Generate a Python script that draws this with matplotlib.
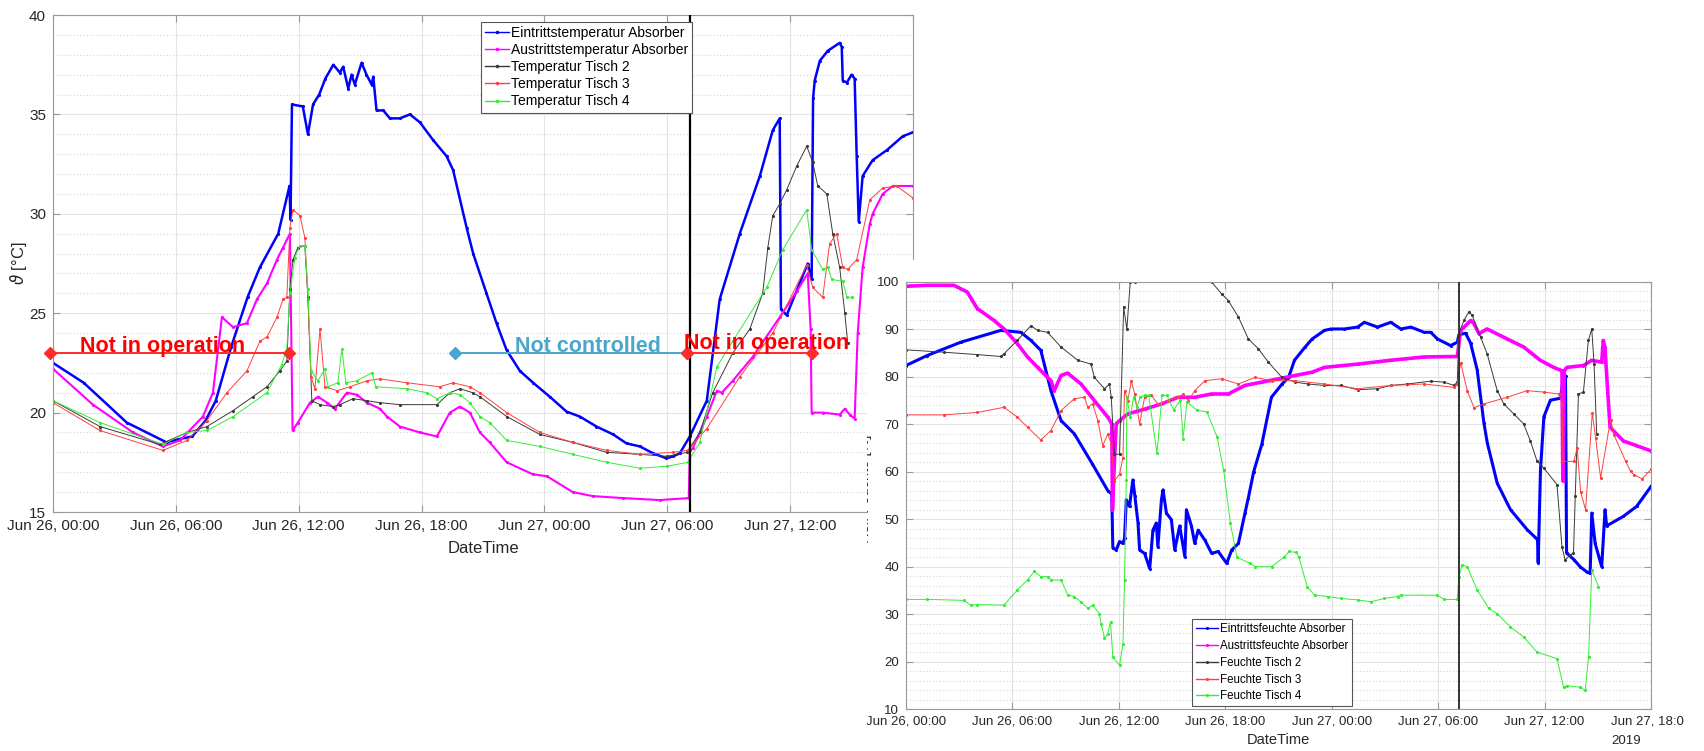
"""
Temperature and humidity at the absorber and the tables, Jun 26-27 2019.
Two MATLAB-style charts, the humidity one laid over the lower right corner
of the temperature one.
"""

import matplotlib
matplotlib.use("Agg")
import matplotlib.pyplot as plt
from matplotlib.ticker import MultipleLocator

plt.rcParams["font.family"] = ["Liberation Sans", "DejaVu Sans"]
plt.rcParams["mathtext.fontset"] = "dejavusans"

# ----------------------------------------------------------------------------
# Data (hours since Jun 26 00:00)
# ----------------------------------------------------------------------------
TICK_HOURS = [0, 6, 12, 18, 24, 30, 36, 42]
TICK_LABELS = ["Jun 26, 00:00", "Jun 26, 06:00", "Jun 26, 12:00",
               "Jun 26, 18:00", "Jun 27, 00:00", "Jun 27, 06:00",
               "Jun 27, 12:00", "Jun 27, 18:00"]
YEAR_LABEL = "2019"
SWITCH_TEMP = 31.1     # black vertical marker, top chart
SWITCH_HUM = 31.17     # black vertical marker, bottom chart

# --- temperatures [°C]
t_ein = [0, 1.5, 3.6, 5.55, 5.85, 6.8, 7.45, 7.95, 8.7, 9.5, 10.1, 11.0,
         11.55, 11.6, 11.67, 12.2, 12.45, 12.7, 13.0, 13.3, 13.69, 14.01,
         14.17, 14.42, 14.58, 14.74, 15.07, 15.31, 15.56, 15.64, 15.80,
         16.13, 16.45, 16.94, 17.43, 17.92, 18.57, 19.22, 19.54, 20.20,
         20.52, 21.17, 21.66, 22.15, 22.80, 23.45, 24.26, 25.08, 25.73,
         26.54, 27.36, 28.01, 28.66, 29.31, 29.96, 30.28, 30.61, 31.10,
         31.93, 32.56, 33.54, 34.52, 35.15, 35.49, 35.55, 35.83, 36.86,
         37.05, 37.12, 37.20, 37.45, 37.84, 38.42, 38.52, 38.57, 38.77,
         39.00, 39.15, 39.25, 39.35, 39.54, 40.03, 40.72, 41.50, 42.0]
v_ein = [22.5, 21.5, 19.5, 18.5, 18.6, 18.8, 19.6, 20.6, 23.3, 25.8, 27.3,
         29.0, 31.4, 29.7, 35.5, 35.4, 34.0, 35.5, 36.0, 36.8, 37.5, 37.1,
         37.4, 36.3, 37.0, 36.5, 37.6, 37.0, 36.5, 36.9, 35.2, 35.2, 34.8,
         34.8, 35.0, 34.6, 33.7, 32.9, 32.2, 29.3, 28.0, 26.0, 24.5, 23.15,
         22.1, 21.5, 20.8, 20.05, 19.8, 19.3, 18.9, 18.45, 18.3, 17.95, 17.7,
         17.8, 17.95, 18.8, 20.6, 25.7, 29.0, 31.9, 34.2, 34.8, 25.2, 24.9,
         27.5, 26.7, 35.8, 36.7, 37.7, 38.2, 38.6, 38.4, 36.7, 36.6, 37.0,
         36.8, 32.9, 29.6, 31.9, 32.7, 33.2, 33.9, 34.1]

t_aus = [0, 1.95, 3.91, 5.37, 6.2, 7.32, 7.81, 8.25, 8.79, 9.47, 9.96,
         10.45, 10.94, 11.23, 11.57, 11.7, 11.96, 12.55, 12.94, 13.38, 13.77,
         14.35, 14.84, 15.33, 15.96, 16.31, 16.94, 17.92, 18.75, 19.38,
         19.87, 20.36, 20.85, 21.33, 22.16, 23.43, 24.12, 25.39, 26.36,
         27.83, 29.63, 31.05, 31.1, 31.24, 31.93, 32.42, 32.66, 33.2, 34.17,
         35.49, 36.32, 36.86, 37.0, 37.05, 37.59, 38.42, 38.67, 38.91,
         39.15, 39.3, 39.54, 39.89, 40.03, 40.52, 41.01, 41.99]
v_aus = [22.2, 20.4, 19.0, 18.3, 18.6, 19.8, 21.0, 24.8, 24.3, 24.5, 25.7,
         26.5, 27.7, 28.3, 29.0, 19.1, 19.5, 20.5, 20.8, 20.5, 20.2, 21.0,
         20.9, 20.5, 20.2, 19.8, 19.3, 19.0, 18.8, 20.0, 20.3, 20.0, 19.0,
         18.5, 17.5, 16.9, 16.8, 16.0, 15.8, 15.7, 15.6, 15.7, 18.1, 18.2,
         19.8, 21.1, 21.0, 21.6, 22.8, 24.8, 26.1, 27.0, 24.2, 20.0, 20.0,
         19.9, 20.2, 19.9, 19.7, 24.0, 27.3, 29.5, 30.0, 31.0, 31.4, 31.4]

t_t2 = [0, 2.29, 5.22, 6.54, 7.52, 8.79, 9.76, 10.45, 11.08, 11.42, 11.57,
        11.72, 11.96, 12.3, 12.45, 12.64, 13.04, 13.67, 14.01, 14.65, 15.33,
        15.96, 16.94, 18.75, 19.38, 19.87, 20.5, 20.85, 22.16, 23.78, 25.39,
        27.05, 28.66, 29.98, 30.95, 31.59, 32.22, 33.2, 34.03, 34.66, 34.91,
        35.15, 35.49, 35.83, 36.32, 36.81, 37.1, 37.35, 37.79, 38.08, 38.42,
        38.67, 38.81]
v_t2 = [20.6, 19.3, 18.4, 19.0, 19.3, 20.1, 20.8, 21.3, 22.1, 22.6, 26.2,
        27.7, 28.3, 28.4, 25.8, 20.6, 20.4, 20.3, 20.4, 20.7, 20.6, 20.5,
        20.4, 20.4, 21.0, 21.2, 21.0, 20.8, 19.8, 18.9, 18.5, 18.0, 17.9,
        17.8, 18.0, 19.0, 21.0, 23.0, 24.2, 26.0, 28.3, 29.9, 30.5, 31.2,
        32.4, 33.4, 32.6, 31.4, 31.0, 29.0, 27.3, 25.0, 23.5]

t_t3 = [0, 2.29, 5.37, 6.54, 7.52, 8.49, 9.47, 10.11, 10.45, 10.94, 11.23,
        11.42, 11.57, 11.72, 12.06, 12.3, 12.45, 12.6, 12.79, 13.04, 13.28,
        13.87, 14.5, 15.33, 15.96, 17.28, 18.89, 19.53, 20.36, 20.85, 22.16,
        23.78, 25.39, 27.05, 28.66, 30.27, 31.0, 31.93, 33.54, 35.15, 36.81,
        37.1, 37.59, 37.93, 38.27, 38.57, 38.81, 39.25, 39.89, 40.52, 41.2,
        41.99]
v_t3 = [20.5, 19.1, 18.1, 18.6, 19.6, 21.0, 22.1, 23.6, 23.8, 24.8, 25.7,
        25.8, 29.3, 30.2, 29.9, 28.8, 25.7, 21.8, 21.2, 24.2, 21.3, 21.1,
        21.3, 21.6, 21.7, 21.5, 21.3, 21.5, 21.3, 21.0, 20.0, 19.0, 18.5,
        18.1, 17.9, 18.0, 18.1, 19.2, 21.8, 24.0, 27.4, 26.3, 25.8, 28.5,
        29.0, 27.3, 27.2, 27.7, 30.7, 31.3, 31.4, 30.8]

t_t4 = [0, 2.29, 5.37, 6.54, 7.52, 8.79, 10.45, 11.16, 11.42, 11.57, 11.81,
        12.06, 12.3, 12.45, 12.6, 12.94, 13.28, 13.43, 13.91, 14.11, 14.3,
        14.84, 15.57, 15.77, 17.28, 18.26, 18.75, 19.38, 19.87, 20.36, 20.85,
        21.33, 22.16, 23.78, 25.39, 27.05, 28.66, 29.98, 31.0, 31.59, 32.42,
        33.2, 34.86, 35.64, 36.81, 37.05, 37.59, 37.84, 38.03, 38.57, 38.77,
        39.0]
v_t4 = [20.6, 19.5, 18.4, 19.0, 19.1, 19.8, 21.0, 22.4, 23.2, 26.0, 27.8,
        28.4, 28.4, 26.2, 22.1, 21.6, 22.2, 21.3, 21.5, 23.2, 21.5, 21.6,
        22.0, 21.3, 21.2, 21.0, 20.7, 21.0, 20.9, 20.5, 19.8, 19.5, 18.6,
        18.3, 17.9, 17.5, 17.2, 17.3, 17.5, 18.5, 22.3, 23.6, 26.3, 28.2,
        30.2, 28.2, 27.2, 27.3, 26.7, 26.6, 25.8, 25.8]

TEMP_SERIES = [
    ("Eintrittstemperatur Absorber", t_ein, v_ein),
    ("Austrittstemperatur Absorber", t_aus, v_aus),
    ("Temperatur Tisch 2", t_t2, v_t2),
    ("Temperatur Tisch 3", t_t3, v_t3),
    ("Temperatur Tisch 4", t_t4, v_t4),
]

# operating phases drawn on the temperature chart: (start, end, label)
PHASES = [(-0.15, 11.55, "Not in operation"),
          (19.63, 30.95, "Not controlled"),
          (30.95, 37.06, "Not in operation")]
PHASE_LEVEL = 23.0

# --- relative humidity [%]
h_ein = [0, 1.19, 3.08, 5.34, 6.47, 7.04, 7.6, 8.17, 8.74, 9.49, 10.5,
         11.38, 11.6, 11.66, 11.85, 12.04, 12.23, 12.32, 12.42, 12.6, 12.79,
         12.9, 13.08, 13.17, 13.45, 13.74, 13.92, 14.11, 14.2, 14.4, 14.49,
         14.68, 14.96, 15.15, 15.43, 15.72, 15.81, 16.09, 16.28, 16.47,
         16.85, 17.23, 17.6, 18.08, 18.36, 18.74, 19.11, 19.3, 19.6, 20.06,
         20.6, 21.2, 21.57, 21.9, 22.5, 22.9, 23.59, 23.96, 24.71, 25.46,
         25.84, 26.58, 27.33, 27.9, 28.46, 29.21, 29.58, 29.96, 30.70, 31.08,
         31.17, 31.55, 31.83, 32.2, 32.58, 32.77, 33.33, 34.08, 35.02, 35.49,
         35.6, 35.64, 35.77, 35.96, 36.33, 36.9, 37.09, 37.18, 37.24, 37.65,
         38.0, 38.38, 38.57, 38.66, 38.85, 39.22, 39.41, 39.5, 40.44, 41.19,
         42.0]
f_ein = [82.4, 84.5, 87.3, 89.8, 89.4, 87.7, 85.6, 77.1, 70.8, 68.0, 61.7,
         56.0, 55.3, 44.0, 43.5, 45.3, 44.9, 46.0, 54.1, 52.7, 58.3, 55.0,
         49.2, 43.5, 42.8, 39.6, 47.7, 49.2, 44.2, 54.1, 56.2, 51.3, 49.9,
         43.5, 48.6, 42.1, 52.0, 48.6, 44.9, 47.7, 45.6, 42.8, 43.2, 40.7,
         43.5, 44.9, 51.3, 54.5, 60.0, 65.8, 75.7, 78.5, 79.9, 83.5, 86.3,
         88.0, 89.8, 90.1, 90.1, 90.5, 91.5, 90.5, 91.5, 90.1, 90.5, 89.4,
         89.4, 88.0, 86.6, 87.3, 88.9, 89.2, 87.1, 81.5, 70.3, 66.1, 57.6,
         52.0, 47.8, 46.1, 45.8, 40.8, 60.4, 71.6, 75.1, 75.5, 80.8, 80.1,
         42.9, 41.5, 40.0, 38.9, 38.6, 51.3, 44.9, 40.0, 52.0, 48.6, 50.6,
         52.7, 56.9]

h_aus = [0, 1.19, 2.7, 3.45, 4.02, 4.96, 5.53, 6.28, 6.85, 7.42, 8.17, 8.36,
         8.74, 9.11, 9.87, 10.62, 11.38, 11.6, 11.64, 11.7, 11.85, 12.04,
         12.51, 13.45, 14.4, 15.34, 16.28, 17.23, 18.17, 19.11, 20.06, 21.0,
         21.94, 22.9, 23.59, 25.46, 27.33, 29.21, 31.08, 31.27, 31.84, 32.02,
         32.3, 32.76, 33.89, 34.82, 35.76, 36.51, 36.98, 37.03, 37.11, 37.26,
         38.19, 38.66, 39.22, 39.31, 39.40, 39.69, 40.44, 41.19, 42.0]
f_aus = [99.1, 99.3, 99.3, 97.9, 94.4, 91.9, 90.1, 87.0, 84.2, 82.0, 79.2,
         77.1, 80.3, 80.8, 78.5, 75.0, 71.5, 70.1, 52.0, 58.0, 70.1, 70.8,
         72.2, 73.2, 74.3, 75.7, 75.7, 76.4, 76.4, 78.2, 78.9, 79.6, 80.3,
         81.0, 82.0, 82.7, 83.5, 84.2, 84.3, 89.8, 91.9, 91.2, 89.1, 90.1,
         88.0, 86.3, 83.5, 82.0, 81.3, 58.1, 81.3, 82.0, 82.4, 83.5, 83.1,
         87.7, 86.3, 69.4, 66.5, 65.5, 64.4]

h_t2 = [0, 2.13, 4.02, 5.34, 5.53, 6.28, 7.04, 7.42, 7.98, 8.74, 9.68,
        10.43, 10.62, 11.19, 11.47, 11.57, 11.75, 12.04, 12.27, 12.45, 12.64,
        12.89, 17.23, 17.79, 18.17, 18.74, 19.3, 19.87, 20.43, 21.19, 21.94,
        22.65, 23.59, 24.52, 25.46, 26.58, 27.33, 28.27, 29.58, 30.33, 30.89,
        31.08, 31.17, 31.45, 31.73, 31.92, 32.39, 32.76, 33.33, 33.7, 34.26,
        34.82, 35.2, 35.57, 35.95, 36.7, 36.98, 37.16, 37.45, 37.63, 37.73,
        37.91, 38.19, 38.47, 38.66, 38.79, 38.94]
f_t2 = [85.7, 85.2, 84.7, 84.3, 84.9, 87.7, 90.8, 89.8, 89.4, 86.3, 83.5,
        82.7, 79.9, 77.5, 78.5, 75.7, 63.7, 63.7, 94.8, 90.0, 99.9, 100.0,
        100.0, 97.5, 96.1, 92.6, 88.0, 85.9, 83.1, 79.9, 78.9, 78.5, 78.2,
        78.2, 77.3, 77.5, 78.2, 78.5, 79.1, 78.9, 78.2, 78.9, 89.1, 91.9,
        93.7, 93.0, 88.4, 84.9, 77.1, 74.3, 72.2, 70.1, 66.5, 62.3, 60.8,
        57.3, 44.2, 41.4, 42.5, 42.8, 54.8, 76.4, 76.8, 87.7, 90.1, 82.7,
        67.9]

h_t3 = [0, 2.13, 4.02, 5.53, 6.28, 6.85, 7.6, 8.17, 8.74, 9.49, 10.06,
        10.25, 10.53, 10.81, 11.09, 11.38, 11.57, 11.75, 12.04, 12.23, 12.32,
        12.51, 12.7, 12.89, 13.17, 13.45, 13.83, 14.2, 14.77, 15.34, 15.62,
        15.91, 16.28, 16.85, 17.79, 18.74, 19.68, 20.62, 21.94, 23.59, 25.46,
        27.33, 29.21, 30.89, 31.08, 31.27, 31.64, 32.02, 32.58, 33.89, 35.01,
        35.95, 36.81, 36.98, 37.05, 37.65, 37.84, 38.03, 38.31, 38.69, 38.88,
        39.16, 39.72, 39.91, 40.57, 40.85, 41.03, 41.5, 42.0]
f_t3 = [72.0, 72.0, 72.5, 73.6, 71.5, 69.4, 66.7, 68.7, 72.9, 75.4, 75.7,
        73.6, 74.3, 70.8, 65.5, 68.0, 65.8, 58.1, 59.5, 63.0, 77.1, 75.0,
        79.2, 76.4, 70.1, 75.7, 76.1, 74.3, 75.0, 75.7, 76.4, 75.0, 77.1,
        79.2, 79.6, 78.5, 79.9, 79.2, 79.2, 78.5, 77.5, 78.2, 78.5, 77.8,
        78.5, 83.0, 77.1, 73.5, 74.3, 75.7, 77.1, 76.8, 76.4, 74.3, 62.2,
        62.2, 65.0, 55.8, 52.0, 72.4, 67.1, 58.7, 71.0, 67.8, 62.2, 60.1,
        59.4, 58.5, 60.5]

h_t4 = [0, 1.19, 3.26, 3.64, 4.02, 5.53, 6.28, 6.85, 7.23, 7.6, 7.98, 8.17,
        8.74, 9.11, 9.49, 9.87, 10.25, 10.53, 10.9, 11.0, 11.19, 11.38,
        11.53, 11.66, 12.04, 12.23, 12.32, 12.42, 12.45, 12.64, 12.83, 13.02,
        13.21, 13.49, 13.68, 14.15, 14.43, 14.71, 15.09, 15.47, 15.62, 15.84,
        16.4, 16.97, 17.54, 17.91, 18.29, 18.66, 19.4, 19.68, 20.62, 21.3,
        21.6, 22.0, 22.15, 22.62, 23.03, 23.78, 24.52, 25.46, 26.21, 26.96,
        27.71, 27.9, 29.96, 30.33, 31.08, 31.17, 31.36, 31.64, 32.2, 32.86,
        33.33, 34.07, 34.82, 35.57, 36.7, 37.07, 37.26, 38.01, 38.29, 38.48,
        38.66, 39.04]
f_t4 = [33.1, 33.1, 32.9, 31.9, 32.0, 31.9, 35.1, 37.2, 39.0, 37.9, 37.9,
        37.2, 37.2, 34.1, 33.7, 32.6, 31.2, 31.9, 30.1, 28.0, 24.9, 25.9,
        28.4, 21.0, 19.2, 23.8, 37.2, 58.3, 75.8, 71.5, 75.8, 73.7, 75.8,
        76.1, 76.1, 63.9, 76.1, 76.1, 73.0, 75.1, 67.0, 74.7, 73.0, 72.6,
        67.3, 60.3, 49.1, 42.0, 40.7, 40.0, 40.0, 42.0, 43.2, 43.0, 42.0,
        35.8, 34.0, 33.7, 33.3, 33.0, 32.6, 33.3, 33.7, 34.0, 34.0, 33.1,
        33.1, 37.9, 40.4, 40.0, 35.1, 31.2, 30.1, 27.3, 25.2, 22.0, 20.6,
        14.6, 14.9, 14.6, 13.9, 21.0, 39.3, 35.8]

HUM_SERIES = [
    ("Eintrittsfeuchte Absorber", h_ein, f_ein),
    ("Austrittsfeuchte Absorber", h_aus, f_aus),
    ("Feuchte Tisch 2", h_t2, f_t2),
    ("Feuchte Tisch 3", h_t3, f_t3),
    ("Feuchte Tisch 4", h_t4, f_t4),
]

# ----------------------------------------------------------------------------
# Style
# ----------------------------------------------------------------------------
FIG_W, FIG_H, DPI = 1704, 751, 100
COLORS = ["#0000ff", "#ff00ff", "#3a3a3a", "#ff4040", "#33ee33"]
TEMP_LW = [1.8, 1.5, 0.7, 0.7, 0.7]
HUM_LW = [2.2, 2.6, 0.7, 0.7, 0.7]
RED = "#ff2a2a"
LIGHT_BLUE = "#4aa6cc"
SPINE = "#9a9a9a"
TEXT = "#262626"


def px_rect(x0, y0, x1, y1):
    """Pixel box (top-left origin) -> figure fraction rect."""
    return [x0 / FIG_W, 1 - y1 / FIG_H, (x1 - x0) / FIG_W, (y1 - y0) / FIG_H]


def matlab_axes(ax, fs, yminor):
    ax.set_facecolor("white")
    for s in ax.spines.values():
        s.set_color(SPINE)
        s.set_linewidth(0.8)
    ax.tick_params(which="major", direction="in", top=True, right=True,
                   length=5, width=0.8, color=SPINE, labelcolor=TEXT,
                   labelsize=fs, pad=5)
    ax.tick_params(which="minor", length=0)
    ax.yaxis.set_minor_locator(MultipleLocator(yminor))
    ax.grid(True, which="major", color="#e4e4e4", lw=0.8)
    ax.grid(True, which="minor", axis="y", color="#d4d4d4", lw=0.8,
            ls=(0, (1, 2)))
    ax.set_axisbelow(True)
    ax.set_xticks(TICK_HOURS, TICK_LABELS)
    ax.set_xlim(0, 42)


def main():
    fig = plt.figure(figsize=(FIG_W / DPI, FIG_H / DPI), dpi=DPI)

    # --- temperature chart -------------------------------------------------
    ax1 = fig.add_axes(px_rect(53, 15, 913, 512))
    matlab_axes(ax1, 11, 1)
    ax1.set_ylim(15, 40)
    ax1.yaxis.set_major_locator(MultipleLocator(5))
    # last date label sits under the humidity chart anyway
    ax1.get_xticklabels()[-1].set_visible(False)
    for (lbl, t, v), c, lw in zip(TEMP_SERIES, COLORS, TEMP_LW):
        ax1.plot(t, v, color=c, lw=lw, marker=".", ms=2.5, label=lbl)
    ax1.axvline(SWITCH_TEMP, color="black", lw=1.6, zorder=5)

    for t0, t1, txt in PHASES:
        col = LIGHT_BLUE if txt == "Not controlled" else RED
        ax1.plot([t0, t1], [PHASE_LEVEL, PHASE_LEVEL], color=col, lw=1.4,
                 marker="D", ms=6, clip_on=False, zorder=6)
    ax1.text(1.3, PHASE_LEVEL + 0.05, PHASES[0][2], color="red",
             fontsize=15.5, fontweight="bold", va="baseline", zorder=7)
    ax1.text(22.55, PHASE_LEVEL + 0.05, PHASES[1][2], color=LIGHT_BLUE,
             fontsize=15.5, fontweight="bold", va="baseline", zorder=7)
    ax1.text(30.8, PHASE_LEVEL + 0.2, PHASES[2][2], color="red",
             fontsize=15.5, fontweight="bold", va="baseline", zorder=7)

    ax1.set_xlabel("DateTime", fontsize=12, color=TEXT, labelpad=6)
    ax1.set_ylabel(r"$\vartheta$ [°C]", fontsize=12, color=TEXT, labelpad=0)
    leg = ax1.legend(loc="upper left", bbox_to_anchor=(481 / FIG_W, 1 - 22 / FIG_H),
                     bbox_transform=fig.transFigure, borderaxespad=0,
                     fontsize=10, frameon=True, fancybox=False,
                     edgecolor="#555555", framealpha=1, handlelength=1.7,
                     handletextpad=0.15, labelspacing=0.22, borderpad=0.3,
                     numpoints=1, markerscale=1.2)
    leg.get_frame().set_linewidth(0.8)
    for h in leg.get_lines():
        h.set_linewidth(1.0)

    # --- white sheet of the humidity chart, laid over the first one --------
    cover = fig.add_axes(px_rect(867, 260, 1684, 751))
    cover.set_xticks([])
    cover.set_yticks([])
    for s in cover.spines.values():
        s.set_visible(False)
    cover.set_facecolor("white")

    # --- humidity chart ------------------------------------------------------
    ax2 = fig.add_axes(px_rect(906, 282, 1651, 709))
    matlab_axes(ax2, 9.5, 2)
    ax2.set_ylim(10, 100)
    ax2.yaxis.set_major_locator(MultipleLocator(10))
    for (lbl, t, v), c, lw in zip(HUM_SERIES, COLORS, HUM_LW):
        ax2.plot(t, v, color=c, lw=lw, marker=".", ms=2.5, label=lbl)
    ax2.axvline(SWITCH_HUM, color="#333333", lw=1.4, zorder=5)
    for lab in ax2.get_xticklabels():
        lab.set_clip_path(cover.patch)
    ax2.set_xlabel("DateTime", fontsize=10.5, color=TEXT, labelpad=4)

    cover.text(865 / FIG_W, 1 - 489 / FIG_H, "Rel. Feuchte [%]",
               transform=fig.transFigure, rotation=90, ha="center",
               va="center", fontsize=10.5, color=TEXT, clip_on=True)
    cover.text(1611 / FIG_W, 1 - 741 / FIG_H, YEAR_LABEL,
               transform=fig.transFigure, ha="left", va="center",
               fontsize=9.5, color=TEXT)

    leg2 = ax2.legend(loc="upper left",
                      bbox_to_anchor=(1192 / FIG_W, 1 - 619 / FIG_H),
                      bbox_transform=fig.transFigure, borderaxespad=0,
                      fontsize=8.3, frameon=True, fancybox=False,
                      edgecolor="#555555", framealpha=1, handlelength=1.9,
                      handletextpad=0.15, labelspacing=0.42, borderpad=0.35,
                      numpoints=1)
    leg2.get_frame().set_linewidth(0.8)
    for h in leg2.get_lines():
        h.set_linewidth(1.0)

    fig.savefig("out.png", dpi=DPI)


if __name__ == "__main__":
    main()
